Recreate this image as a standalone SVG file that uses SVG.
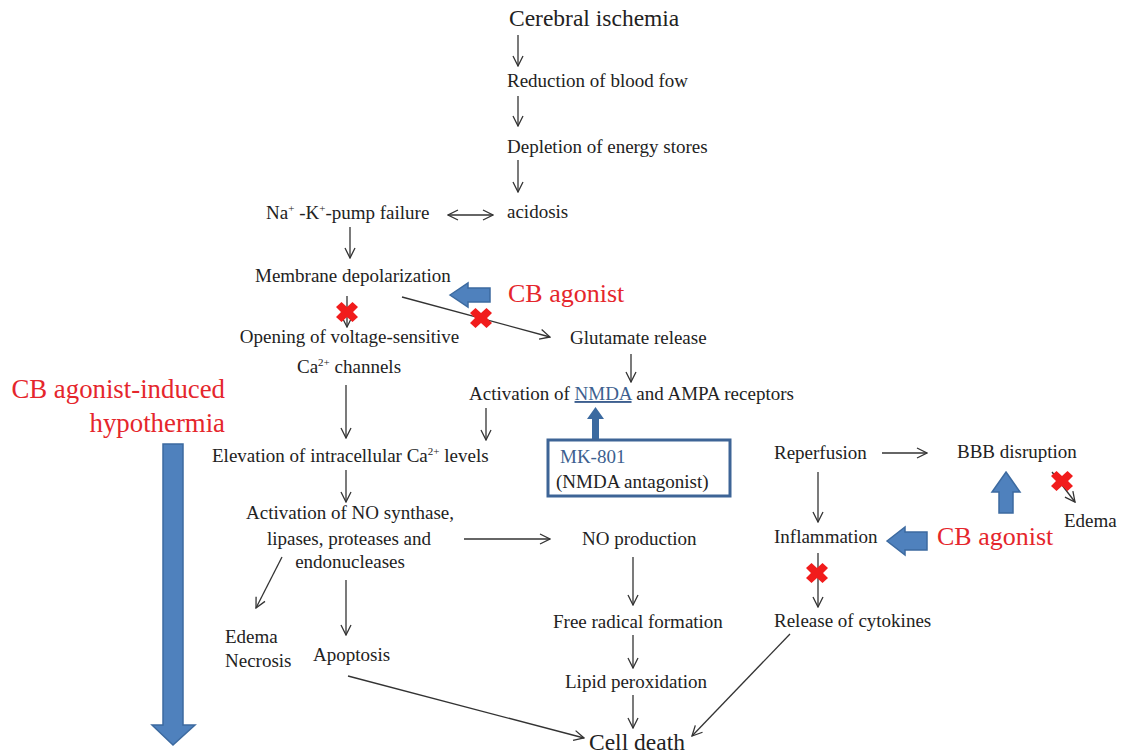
<svg xmlns="http://www.w3.org/2000/svg" width="1121" height="754" viewBox="0 0 1121 754">
<style>
text{font-family:"Liberation Serif","Times New Roman",serif;fill:#222;font-size:19px}
.big{font-size:23.5px}
.red{fill:#e5262c;font-size:26px}
.hyp{font-size:26.8px}
.blue{fill:#3d5f8f}
.conn line{stroke:#333;stroke-width:1.3;fill:none}
.barrow{fill:#4f81bd;stroke:#3c6aa0;stroke-width:1.5}
.x{fill:#f11c1c}
</style>
<defs>
<marker id="ah" viewBox="0 0 12 12" refX="11" refY="6" markerWidth="12" markerHeight="12" markerUnits="userSpaceOnUse" orient="auto-start-reverse">
<path d="M1,1 L11,6 L1,11" fill="none" stroke="#333" stroke-width="1.3"/>
</marker>
<path id="cross" d="M-11,-5 L-5.5,-10 L0,-5 L5.5,-10 L11,-5 L6,0 L11,5 L5.5,10 L0,5 L-5.5,10 L-11,5 L-6,0 Z"/>
</defs>
<rect width="1121" height="754" fill="#fff"/>

<g id="connectors" class="conn">
<line x1="518" y1="35" x2="518" y2="66" marker-end="url(#ah)"/>
<line x1="518" y1="96" x2="518" y2="126" marker-end="url(#ah)"/>
<line x1="518" y1="160" x2="518" y2="192" marker-end="url(#ah)"/>
<line x1="448" y1="215" x2="493" y2="215" marker-start="url(#ah)" marker-end="url(#ah)"/>
<line x1="350" y1="227" x2="350" y2="258" marker-end="url(#ah)"/>
<line x1="402" y1="297" x2="550" y2="337" marker-end="url(#ah)"/>
<line x1="347" y1="296" x2="347" y2="327" marker-end="url(#ah)"/>
<line x1="346" y1="385" x2="346" y2="438" marker-end="url(#ah)"/>
<line x1="631" y1="354" x2="631" y2="382" marker-end="url(#ah)"/>
<line x1="486" y1="408" x2="486" y2="440" marker-end="url(#ah)"/>
<line x1="346" y1="470" x2="346" y2="502" marker-end="url(#ah)"/>
<line x1="464" y1="539" x2="550" y2="539" marker-end="url(#ah)"/>
<line x1="282" y1="557" x2="256" y2="608" marker-end="url(#ah)"/>
<line x1="346" y1="580" x2="346" y2="635" marker-end="url(#ah)"/>
<line x1="633" y1="557" x2="633" y2="605" marker-end="url(#ah)"/>
<line x1="633" y1="635" x2="633" y2="668" marker-end="url(#ah)"/>
<line x1="633" y1="695" x2="633" y2="728" marker-end="url(#ah)"/>
<line x1="348" y1="676" x2="584" y2="738" marker-end="url(#ah)"/>
<line x1="790" y1="634" x2="692" y2="736" marker-end="url(#ah)"/>
<line x1="882" y1="453" x2="927" y2="453" marker-end="url(#ah)"/>
<line x1="818" y1="472" x2="818" y2="522" marker-end="url(#ah)"/>
<line x1="818" y1="553" x2="818" y2="607" marker-end="url(#ah)"/>
<line x1="1052" y1="472" x2="1075" y2="502" marker-end="url(#ah)"/>
</g>

<g id="blocks">
<use href="#cross" class="x" x="347" y="312"/>
<use href="#cross" class="x" x="481" y="318"/>
<use href="#cross" class="x" x="817" y="573"/>
<use href="#cross" class="x" x="1062" y="481"/>
</g>

<g id="n-ischemia"><text class="big" x="509" y="26">Cerebral ischemia</text></g>
<g id="n-bloodflow"><text x="507" y="87">Reduction of blood fow</text></g>
<g id="n-energy"><text x="507" y="153">Depletion of energy stores</text></g>
<g id="n-pump"><text x="266" y="219">Na<tspan font-size="11" dy="-7">+</tspan><tspan dy="7"> -K</tspan><tspan font-size="11" dy="-7">+</tspan><tspan dy="7">-pump failure</tspan></text></g>
<g id="n-acidosis"><text x="507" y="218">acidosis</text></g>
<g id="n-depol"><text x="255" y="282">Membrane depolarization</text></g>
<g id="n-cb1">
<path class="barrow" d="M450,295 L468,283 L468,288 L490,288 L490,302 L468,302 L468,307 Z"/>
<text class="red" x="508" y="302">CB agonist</text>
</g>
<g id="n-vsc"><text x="349.5" y="343" text-anchor="middle">Opening of voltage-sensitive</text>
<text x="349" y="373" text-anchor="middle">Ca<tspan font-size="11" dy="-7">2+</tspan><tspan dy="7"> channels</tspan></text></g>
<g id="n-glutamate"><text x="570" y="344">Glutamate release</text></g>
<g id="n-receptors"><text x="469" y="400">Activation of <tspan class="blue" text-decoration="underline">NMDA</tspan> and AMPA receptors</text></g>
<g id="n-mk801">
<path d="M595.5,407 L604,419 L599,419 L599,440 L592,440 L592,419 L587,419 Z" fill="#3b6aa0"/>
<rect x="548" y="440" width="182" height="56" fill="#fff" stroke="#3d6496" stroke-width="3"/>
<text class="blue" x="560" y="463">MK-801</text>
<text x="556" y="488">(NMDA antagonist)</text>
</g>
<g id="n-ca"><text x="212" y="462">Elevation of intracellular Ca<tspan font-size="11" dy="-7">2+</tspan><tspan dy="7"> levels</tspan></text></g>
<g id="n-enzymes">
<text x="350" y="519" text-anchor="middle">Activation of NO synthase,</text>
<text x="349" y="545" text-anchor="middle">lipases, proteases and</text>
<text x="350" y="568" text-anchor="middle">endonucleases</text>
</g>
<g id="n-no"><text x="582" y="545">NO production</text></g>
<g id="n-edema1"><text x="225" y="643">Edema</text><text x="225" y="667">Necrosis</text></g>
<g id="n-apoptosis"><text x="313" y="661">Apoptosis</text></g>
<g id="n-radical"><text x="553" y="628">Free radical formation</text></g>
<g id="n-lipid"><text x="565" y="688">Lipid peroxidation</text></g>
<g id="n-death"><text class="big" x="589" y="750">Cell death</text></g>
<g id="n-reperfusion"><text x="774" y="459">Reperfusion</text></g>
<g id="n-bbb"><text x="957" y="458">BBB disruption</text></g>
<g id="n-inflammation"><text x="774" y="543">Inflammation</text></g>
<g id="n-cb2">
<path class="barrow" d="M887,541 L905,527 L905,532 L927,532 L927,550 L905,550 L905,555 Z"/>
<path class="barrow" d="M1006,472 L1020,492 L1013,492 L1013,513 L999,513 L999,492 L992,492 Z"/>
<text class="red" x="937" y="545">CB agonist</text>
</g>
<g id="n-edema2"><text x="1064" y="527">Edema</text></g>
<g id="n-cytokines"><text x="774" y="627">Release of cytokines</text></g>
<g id="n-hypothermia">
<text class="red hyp" x="225" y="398" text-anchor="end">CB agonist-induced</text>
<text class="red hyp" x="225" y="432" text-anchor="end">hypothermia</text>
<path class="barrow" d="M163,444 L183,444 L183,725 L195,725 L173,745 L152,725 L163,725 Z"/>
</g>
</svg>
